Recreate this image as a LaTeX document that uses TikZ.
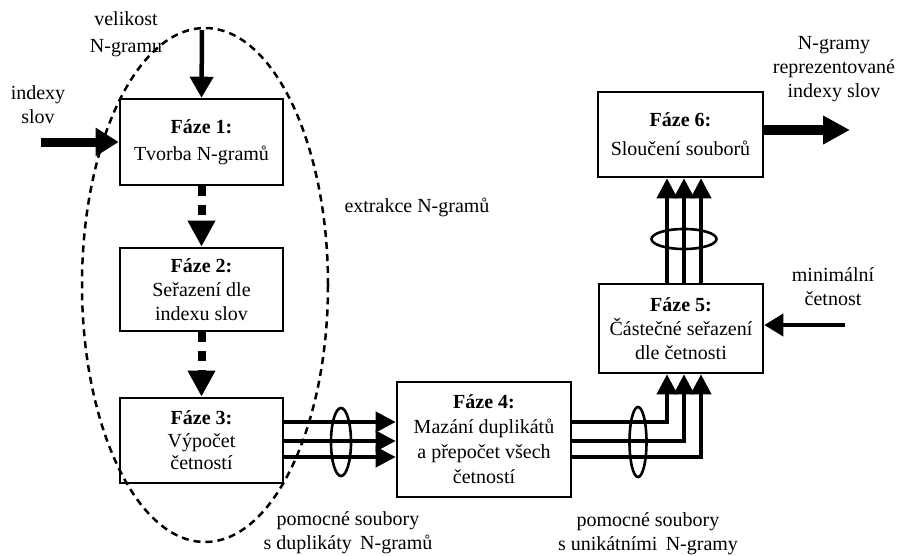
\documentclass[tikz,border=0pt]{standalone}
\usepackage{fontspec}
\setmainfont{Liberation Serif}
\usetikzlibrary{arrows.meta,shapes.geometric}
\begin{document}
\begin{tikzpicture}[x=1pt,y=-1pt,
  box/.style={draw,line width=2.6pt,inner sep=0pt,align=center,
    font=\fontsize{20}{24}\selectfont},
  lbl/.style={inner sep=0pt,align=center,font=\fontsize{20}{24}\selectfont},
  arr/.style={line width=4pt,-{Triangle[length=20pt,width=20pt]}},
  velarrow/.style={line width=4.5pt,-{Triangle[length=21pt,width=23pt]}},
  inarrow/.style={line width=9pt,-{Triangle[length=23pt,width=27pt]}},
  outarrow/.style={line width=10pt,-{Triangle[length=27pt,width=27pt]}},
  minarrow/.style={line width=4pt,-{Triangle[length=19pt,width=22pt]}},
  dotarrow/.style={line width=8pt,dash pattern=on 10pt off 9pt,-{Triangle[length=26pt,width=26pt]}},
  bundle/.style={draw,ellipse,line width=2.6pt,inner sep=0pt}
]
\useasboundingbox (0,0) rectangle (897,555);

% dashed grouping ellipse
\node[draw,ellipse,line width=2.5pt,dash pattern=on 7pt off 5pt,inner sep=0pt,
      minimum width=246pt,minimum height=514pt] (grp) at (205,285) {};

% boxes
\node[box,minimum width=163pt,minimum height=86pt] (b1) at (201.5,142)
  {\textbf{Fáze 1:}\\[3pt]Tvorba N-gramů};
\node[box,minimum width=163pt,minimum height=83pt] (b2) at (201.5,289.5)
  {\textbf{Fáze 2:}\\Seřazení dle\\indexu slov};
\node[box,minimum width=163pt,minimum height=85pt] (b3) at (201.5,440.5)
  {\textbf{Fáze 3:}\\[-1pt]Výpočet\\[-2pt]četností};
\node[box,minimum width=174pt,minimum height=115pt] (b4) at (484,439.5)
  {\textbf{Fáze 4:}\\[1pt]Mazání duplikátů\\[1pt]a přepočet všech\\[1pt]četností};
\node[box,minimum width=164pt,minimum height=89pt] (b5) at (681,328.5)
  {\textbf{Fáze 5:}\\Částečné seřazení\\dle četnosti};
\node[box,minimum width=165pt,minimum height=85pt] (b6) at (680.5,134.5)
  {\textbf{Fáze 6:}\\[5pt]Sloučení souborů};

% labels
\node[lbl] (lvel) at (126,34) {velikost\\[3pt]N-gramu};
\node[lbl] (lidx) at (38,105) {indexy\\slov};
\node[lbl] (lext) at (417,207) {extrakce N-gramů};
\node[lbl] (lout) at (834,69) {N-gramy\\reprezentované\\indexy slov};
\node[lbl] (lmin) at (833,287) {minimální\\četnost};
\node[lbl] (ldup) at (348,533) {pomocné soubory\\s duplikáty\ \,N-gramů};
\node[lbl] (luni) at (648,534) {pomocné soubory\\s unikátními\ \,N-gramy};

% helper coordinates
\coordinate (vtop) at (202,30);
\coordinate (itail) at (41,142);
\coordinate (otip) at (850,130);
\coordinate (mtail) at (845,325);
\coordinate (h1) at (0,422);
\coordinate (h2) at (0,441);
\coordinate (h3) at (0,457);
\coordinate (v1) at (667,0);
\coordinate (v2) at (684,0);
\coordinate (v3) at (701,0);

% inputs / outputs
\draw[velarrow] (vtop) -- (b1.north);
\draw[inarrow] (itail) -- (b1.west);
\draw[outarrow] (b6.east |- otip) -- (otip);
\draw[minarrow] (mtail) -- (b5.east |- mtail);

% dotted flow
\draw[dotarrow] (b1.south) -- (b2.north);
\draw[dotarrow] (b2.south) -- (b3.north);

% phase 3 -> phase 4
\draw[arr] (b3.east |- h1) -- (b4.west |- h1);
\draw[arr] (b3.east |- h2) -- (b4.west |- h2);
\draw[arr] (b3.east |- h3) -- (b4.west |- h3);

% phase 4 -> phase 5
\draw[arr] (b4.east |- h1) -| (v1 |- b5.south);
\draw[arr] (b4.east |- h2) -| (v2 |- b5.south);
\draw[arr] (b4.east |- h3) -| (v3 |- b5.south);

% phase 5 -> phase 6
\draw[arr] (v1 |- b5.north) -- (v1 |- b6.south);
\draw[arr] (v2 |- b5.north) -- (v2 |- b6.south);
\draw[arr] (v3 |- b5.north) -- (v3 |- b6.south);

% bundle ellipses
\node[bundle,minimum width=20pt,minimum height=68pt] (e1) at (341,442) {};
\node[bundle,minimum width=17pt,minimum height=70pt] (e2) at (638,442) {};
\node[bundle,minimum width=65pt,minimum height=20pt] (e3) at (684,239) {};
\end{tikzpicture}
\end{document}
